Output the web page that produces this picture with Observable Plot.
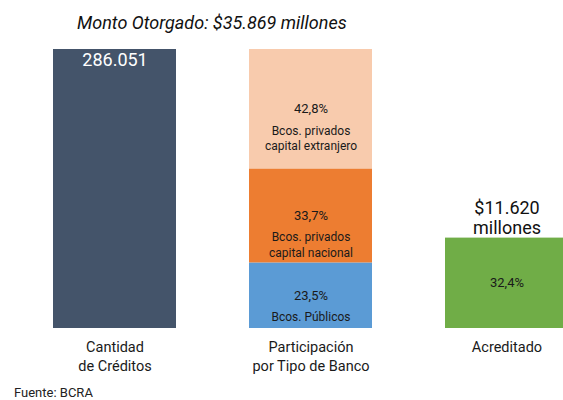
<!DOCTYPE html>
<html>
<head>
<meta charset="utf-8">
<script src="https://cdn.jsdelivr.net/npm/d3@7"></script>
<script src="https://cdn.jsdelivr.net/npm/@observablehq/plot@0.6"></script>
<style>
  html, body { margin: 0; padding: 0; background: #fff; }
  body { width: 563px; height: 400px; overflow: hidden; font-family: Roboto, "Noto Sans", sans-serif; }
  #title { height: 40px; line-height: 46px; padding-left: 77px; font-size: 18px; font-style: italic; color: #111; white-space: nowrap; }
  #chart svg { display: block; overflow: hidden; }
  #caption { padding-left: 14px; font-size: 13px; color: #222; line-height: 13px; margin-top: 6px; }
</style>
</head>
<body>
<div id="title"></div>
<div id="chart"></div>
<div id="caption"></div>
<script>
// ---- data ----
const titleText = "Monto Otorgado: $35.869 millones";
const sourceText = "Fuente: BCRA";
const columns = ["Cantidad\nde Créditos", "Participación\npor Tipo de Banco", "Acreditado"];
const creditCountLabel = "286.051";
const creditShare = 100;
const bankSegments = ["Bcos. Públicos", "Bcos. privados\ncapital nacional", "Bcos. privados\ncapital extranjero"];
const bankShares = [23.5, 33.7, 42.8];
const accreditedShare = 32.4;
const accreditedLabel = "$11.620\nmillones";

// ---- styles ----
const segmentColors = ["#5B9BD5", "#ED7D31", "#F8CBAD"];
const creditColor = "#44546A";
const accreditedColor = "#70AD47";

const pct = v => v.toFixed(1).replace(".", ",") + "%";

const rows = [
  {col: columns[0], key: "creditos", value: creditShare, fill: creditColor, label: null, desc: null},
  ...bankSegments.map((s, i) => ({col: columns[1], key: s, value: bankShares[i], fill: segmentColors[i], label: pct(bankShares[i]), desc: s})),
  {col: columns[2], key: "acreditado", value: accreditedShare, fill: accreditedColor, label: pct(accreditedShare), desc: null}
];

document.getElementById("title").textContent = titleText;
document.getElementById("caption").textContent = sourceText;

const chart = Plot.plot({
  width: 563,
  height: 340,
  marginTop: 9,
  marginBottom: 52,
  marginLeft: 0,
  marginRight: 0,
  style: {fontFamily: "Roboto, 'Noto Sans', sans-serif", color: "#1a1a1a", background: "#fff"},
  x: {domain: columns, range: [52, 568], paddingInner: 0.374, paddingOuter: 0, align: 0.5, label: null},
  y: {domain: [0, 100], axis: null},
  marks: [
    Plot.barY(rows, Plot.stackY({x: "col", y: "value", z: "key", fill: "fill", order: null})),
    Plot.text(rows.filter(d => d.label), Plot.stackY({x: "col", y: "value", z: "key", order: null, text: "label", fontSize: 13, fill: "#1a1a1a"})),
    Plot.text(rows.filter(d => d.desc), Plot.stackY({x: "col", y: "value", z: "key", order: null, text: "desc", fontSize: 12, lineAnchor: "top", lineHeight: 1.33, dy: 14, fill: "#1a1a1a"})),
    Plot.text([{col: columns[0], value: creditShare, label: creditCountLabel}], {x: "col", y: "value", text: "label", fill: "white", fontSize: 18, lineAnchor: "top", dy: 4}),
    Plot.text([{col: columns[2], value: accreditedShare, label: accreditedLabel}], {x: "col", y: "value", text: "label", fill: "#111", fontSize: 18, lineAnchor: "bottom", lineHeight: 1.1, dy: -4}),
    Plot.axisX({tickSize: 0, tickPadding: 10, fontSize: 14.5, lineHeight: 1.3, fill: "#1a1a1a", label: null})
  ]
});
document.getElementById("chart").appendChild(chart);
</script>
</body>
</html>
